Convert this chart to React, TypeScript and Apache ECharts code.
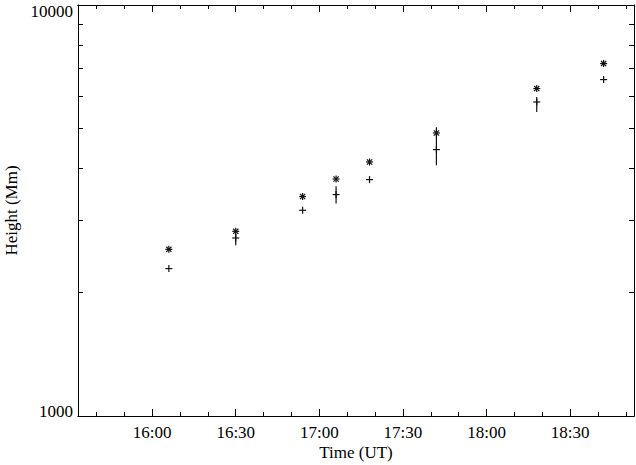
import React, { useEffect, useRef } from "react";
import * as echarts from "echarts";

// Observation times (UT)
const times = ["16:06", "16:30", "16:54", "17:06", "17:18", "17:42", "18:18", "18:42"];
// Asterisk series heights (Mm)
const starHeights = [2544, 2814, 3420, 3773, 4150, 4882, 6261, 7202];
// Plus series heights (Mm) with error bar ends
const plusHeights = [2284, 2711, 3166, 3458, 3760, 4448, 5808, 6585];
const plusLow = [2284, 2602, 3166, 3287, 3760, 4074, 5491, 6585];
const plusHigh = [2284, 2779, 3166, 3622, 3760, 5040, 5973, 6585];

// Axis range and ticks
const xRange = ["15:33.4", "18:52.9"];
const xMajorTicks = ["16:00", "16:30", "17:00", "17:30", "18:00", "18:30"];
const xMinorTicks = [
  "15:40", "15:50", "16:00", "16:10", "16:20", "16:30", "16:40", "16:50", "17:00", "17:10",
  "17:20", "17:30", "17:40", "17:50", "18:00", "18:10", "18:20", "18:30", "18:40", "18:50",
];
const yRange = [1000, 10000];
const yTickValues = [1000, 2000, 3000, 4000, 5000, 6000, 7000, 8000, 9000, 10000];
const yLabelValues = [1000, 10000];

const toMin = (s: string) => {
  const [h, m] = s.split(":");
  return Number(h) * 60 + Number(m);
};
const fmtTime = (v: number) => {
  const h = Math.floor(v / 60);
  const m = Math.round(v - h * 60);
  return `${h}:${String(m).padStart(2, "0")}`;
};

const FONT = "Liberation Serif";
const INK = "#000";

export default function App() {
  const ref = useRef<HTMLDivElement>(null);
  useEffect(() => {
    if (!ref.current) return;
    const chart = echarts.init(ref.current, undefined, { renderer: "svg" });
    const xMin = toMin(xRange[0]);
    const xMax = toMin(xRange[1]);
    const majors = xMajorTicks.map(toMin);
    const minors = xMinorTicks.map(toMin);
    const yLogMin = Math.log10(yRange[0]);
    const yLogMax = Math.log10(yRange[1]);
    const yTicksLog = yTickValues.map((v) => Math.log10(v));
    const yLabelsLog = yLabelValues.map((v) => Math.log10(v));

    const xBase = {
      type: "value",
      min: xMin,
      max: xMax,
      splitLine: { show: false },
      axisLine: { show: true, onZero: false, lineStyle: { color: INK, width: 1 } },
    };
    const yBase = {
      type: "value",
      min: yLogMin,
      max: yLogMax,
      splitLine: { show: false },
      axisLine: { show: true, onZero: false, lineStyle: { color: INK, width: 1 } },
    };

    const data = times.map((t, i) => [
      toMin(t),
      starHeights[i],
      plusHeights[i],
      plusLow[i],
      plusHigh[i],
    ]);

    const ls = { stroke: "#111", lineWidth: 1.2 };

    chart.setOption({
      animation: false,
      backgroundColor: "#fff",
      textStyle: { fontFamily: FONT },
      grid: {
        left: 78,
        right: 2,
        top: 5,
        bottom: 49,
        outerBoundsMode: "none",
        containLabel: false,
      },
      xAxis: [
        {
          ...xBase,
          position: "bottom",
          name: "Time (UT)",
          nameLocation: "middle",
          nameGap: 28,
          nameMoveOverlap: false,
          nameTextStyle: { fontFamily: FONT, fontSize: 17, color: INK },
          axisTick: { show: true, inside: true, length: 7, customValues: majors, lineStyle: { color: INK } },
          axisLabel: {
            show: true,
            customValues: majors,
            formatter: (v: number) => fmtTime(v),
            fontFamily: FONT,
            fontSize: 17,
            color: INK,
            margin: 8,
          },
        },
        {
          ...xBase,
          position: "bottom",
          axisTick: { show: true, inside: true, length: 4, customValues: minors, lineStyle: { color: INK } },
          axisLabel: { show: false },
        },
        {
          ...xBase,
          position: "top",
          axisTick: { show: true, inside: true, length: 7, customValues: majors, lineStyle: { color: INK } },
          axisLabel: { show: false },
        },
        {
          ...xBase,
          position: "top",
          axisTick: { show: true, inside: true, length: 4, customValues: minors, lineStyle: { color: INK } },
          axisLabel: { show: false },
        },
      ],
      yAxis: [
        {
          type: "log",
          logBase: 10,
          min: yRange[0],
          max: yRange[1],
          show: false,
        },
        {
          ...yBase,
          position: "left",
          name: "Height (Mm)",
          nameLocation: "middle",
          nameGap: 58,
          nameRotate: 90,
          nameMoveOverlap: false,
          nameTextStyle: { fontFamily: FONT, fontSize: 17, color: INK },
          axisTick: { show: true, inside: true, length: 5, customValues: yTicksLog, lineStyle: { color: INK } },
          axisLabel: {
            show: true,
            customValues: yLabelsLog,
            margin: 5,
            fontFamily: FONT,
            fontSize: 17,
            color: INK,
            formatter: (v: number) => {
              const val = Math.round(Math.pow(10, v));
              return val >= 10000 ? `{t|${val}}` : `{b|${val}}`;
            },
            rich: {
              t: { fontFamily: FONT, fontSize: 17, color: INK, padding: [12, 0, 0, 0] },
              b: { fontFamily: FONT, fontSize: 17, color: INK, padding: [0, 0, 10, 0] },
            },
          },
        },
        {
          ...yBase,
          position: "right",
          axisTick: { show: true, inside: true, length: 5, customValues: yTicksLog, lineStyle: { color: INK } },
          axisLabel: { show: false },
        },
      ],
      series: [
        {
          type: "custom",
          xAxisIndex: 0,
          yAxisIndex: 0,
          data,
          clip: false,
          renderItem: (params: any, api: any) => {
            const x = api.value(0);
            const s = api.coord([x, api.value(1)]);
            const p = api.coord([x, api.value(2)]);
            const lo = api.coord([x, api.value(3)]);
            const hi = api.coord([x, api.value(4)]);
            const a = 3.5;
            const d = 2.6;
            const ln = (x1: number, y1: number, x2: number, y2: number) => ({
              type: "line",
              shape: { x1, y1, x2, y2 },
              style: ls,
            });
            return {
              type: "group",
              children: [
                // asterisk
                ln(s[0] - a, s[1], s[0] + a, s[1]),
                ln(s[0], s[1] - a, s[0], s[1] + a),
                ln(s[0] - d, s[1] - d, s[0] + d, s[1] + d),
                ln(s[0] - d, s[1] + d, s[0] + d, s[1] - d),
                // plus
                ln(p[0] - a, p[1], p[0] + a, p[1]),
                ln(p[0], p[1] - a, p[0], p[1] + a),
                // error bar
                ln(lo[0], lo[1], hi[0], hi[1]),
              ],
            };
          },
        },
      ],
    });
    return () => chart.dispose();
  }, []);
  return (
    <div
      ref={ref}
      style={{ position: "absolute", left: 0, top: 0, width: 636, height: 465 }}
    />
  );
}
